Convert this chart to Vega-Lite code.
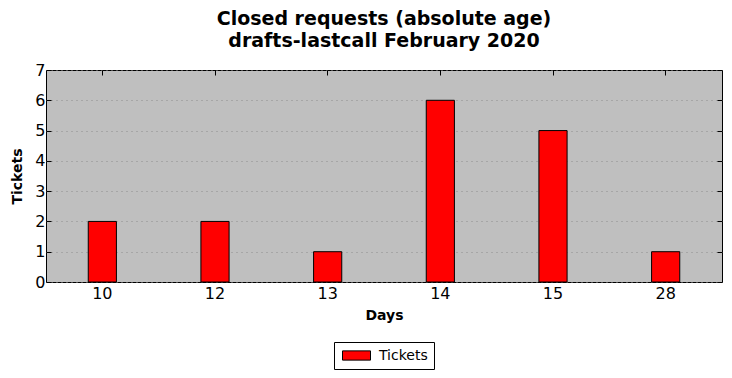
{
  "$schema": "https://vega.github.io/schema/vega-lite/v6.json",
  "width": 676,
  "height": 212,
  "autosize": "none",
  "padding": {"left": 46, "top": 70, "right": 10, "bottom": 96},
  "background": "white",
  "title": {
    "text": ["Closed requests (absolute age)", "drafts-lastcall February 2020"],
    "font": "DejaVu Sans",
    "fontSize": 19,
    "fontWeight": "bold",
    "color": "black",
    "anchor": "middle",
    "lineHeight": 22,
    "offset": 11
  },
  "config": {
    "view": {"fill": "#bfbfbf", "stroke": "black", "strokeWidth": 1},
    "axis": {
      "labelFont": "DejaVu Sans",
      "labelFontSize": 16,
      "labelColor": "black",
      "labelOverlap": false,
      "labelFlush": false,
      "titleFont": "DejaVu Sans",
      "titleFontSize": 14,
      "titleFontWeight": "bold",
      "titleColor": "black",
      "domain": false,
      "tickColor": "black",
      "tickSize": -5,
      "labelPadding": 9
    }
  },
  "data": {
    "values": [
      {"day": "10", "tickets": 2},
      {"day": "12", "tickets": 2},
      {"day": "13", "tickets": 1},
      {"day": "14", "tickets": 6},
      {"day": "15", "tickets": 5},
      {"day": "28", "tickets": 1}
    ]
  },
  "layer": [
    {
      "mark": {"type": "bar", "width": {"band": 0.25}, "stroke": "black", "strokeWidth": 1},
      "encoding": {
        "x": {
          "field": "day", "type": "ordinal", "sort": null,
          "scale": {"paddingInner": 0, "paddingOuter": 0},
          "axis": {"title": "Days", "labelAngle": 0, "titlePadding": 7, "labelPadding": 8}
        },
        "y": {
          "field": "tickets", "type": "quantitative",
          "scale": {"domain": [0, 7], "nice": false},
          "axis": {"title": "Tickets", "values": [0,1,2,3,4,5,6,7], "grid": true, "gridColor": "#8c8c8c", "gridDash": [1, 4], "gridWidth": 1, "titlePadding": 10, "labelPadding": 6}
        },
        "fill": {
          "datum": "Tickets", "type": "nominal",
          "scale": {"range": ["#ff0000"]},
          "legend": {
            "orient": "none", "legendX": 288, "legendY": 272,
            "title": null,
            "strokeColor": "black", "fillColor": "white",
            "padding": 6,
            "symbolType": "M-2,-0.66L2,-0.66L2,0.66L-2,0.66Z",
            "symbolSize": 196,
            "symbolOffset": 9,
            "symbolStrokeColor": "black",
            "symbolStrokeWidth": 1,
            "labelFont": "DejaVu Sans", "labelFontSize": 14, "labelColor": "black",
            "labelOffset": 15, "cornerRadius": 0
          }
        }
      }
    },
    {
      "mark": {"type": "bar", "opacity": 0},
      "encoding": {
        "x": {"field": "day", "type": "ordinal", "sort": null,
          "scale": {"paddingInner": 0, "paddingOuter": 0},
          "axis": {"orient": "top", "labels": false, "title": null}},
        "y": {"field": "tickets", "type": "quantitative",
          "scale": {"domain": [0, 7], "nice": false},
          "axis": {"orient": "right", "labels": false, "title": null, "values": [0,1,2,3,4,5,6,7]}}
      }
    }
  ],
  "resolve": {"axis": {"x": "independent", "y": "independent"}}
}
